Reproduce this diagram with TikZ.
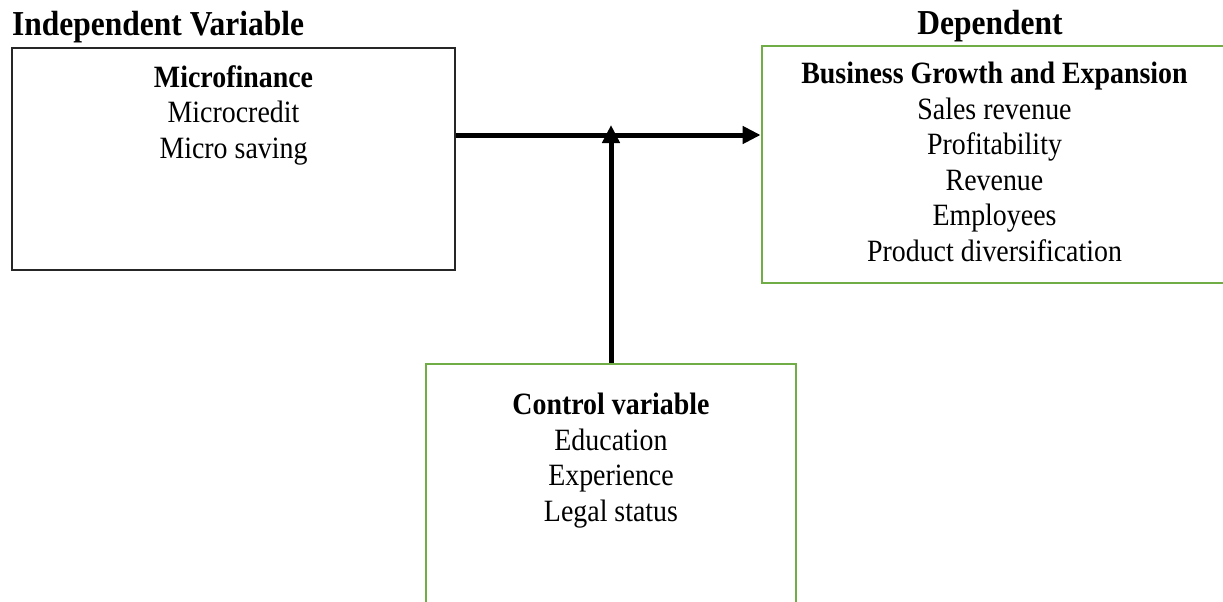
\documentclass[tikz,border=0pt]{standalone}
\usepackage{fontspec}
\setmainfont{Liberation Serif}[FakeStretch=0.9]
\usetikzlibrary{arrows.meta}
\definecolor{boxgreen}{RGB}{112,173,71}
\tikzset{
  blackbox/.style={draw=black!85,line width=1.5pt,inner sep=0pt},
  greenbox/.style={draw=boxgreen,line width=2.8pt,inner sep=0pt},
  boxtext/.style={align=center,inner sep=0pt,anchor=north,font=\fontsize{31}{35.5}\selectfont},
  heading/.style={inner sep=0pt,anchor=base,font=\fontsize{35}{40}\selectfont\bfseries},
  link/.style={line width=5pt,-{Triangle[length=18pt,width=17pt]}}
}
\begin{document}
\begin{tikzpicture}[x=1pt,y=-1pt]
   \clip (0,0) rectangle (1223,602);
   \useasboundingbox (0,0) rectangle (1223,602);
   \node[heading,anchor=base west] (indephead) at (12,36) {Independent Variable};
   \node[heading] (dephead) at (990,35) {Dependent};
   \node[blackbox,minimum width=443pt,minimum height=222pt] (indep) at (233.5,159) {};
   \node[greenbox,minimum width=476pt,minimum height=237pt] (dep) at (1000,164.5) {};
   \node[greenbox,minimum width=370pt,minimum height=256pt] (ctrl) at (611,492) {};
   \node[boxtext] (indeptext) at (233.5,65) {\textbf{Microfinance}\\ Microcredit\\ Micro saving};
   \node[boxtext] (deptext) at (994.5,62) {\textbf{Business Growth and Expansion}\\ Sales revenue\\
      Profitability\\ Revenue\\ Employees\\ Product diversification};
   \node[boxtext] (ctrltext) at (611,393) {\textbf{Control variable}\\ Education\\ Experience\\ Legal status};
   % arrows
   \coordinate (hline) at (613,135);
   \coordinate (meet) at (613,125);
   \draw[link] (indep.east |- hline) -- (dep.west |- hline);
   \draw[link] (ctrl.north) -- (ctrl.north |- meet);
\end{tikzpicture}
\end{document}
